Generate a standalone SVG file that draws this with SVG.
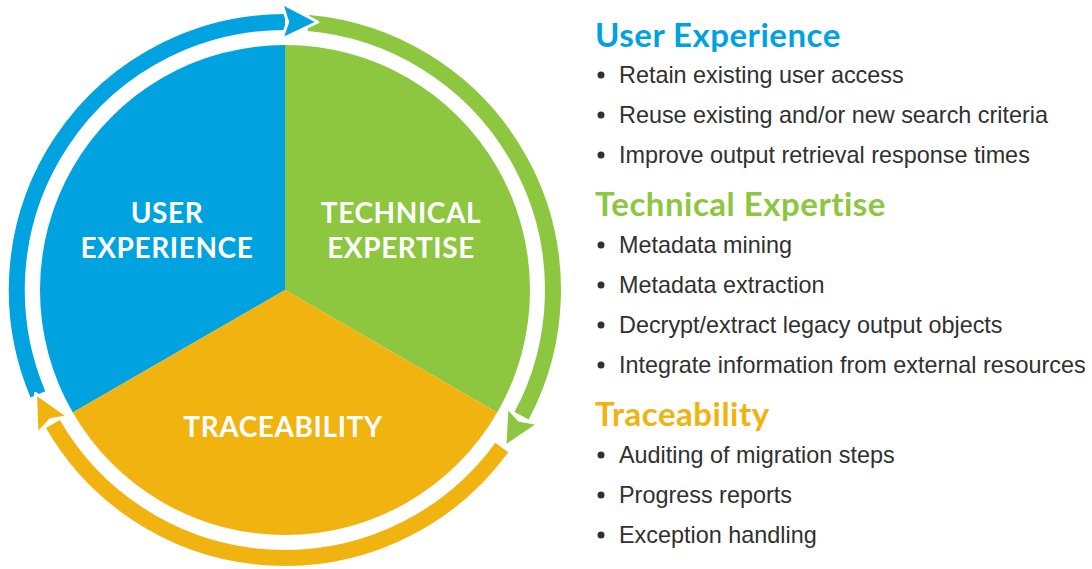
<svg xmlns="http://www.w3.org/2000/svg" width="1092" height="569" viewBox="0 0 1092 569">
<style>
.ring{fill:none;stroke-width:16}
.arr{stroke:#fff;stroke-width:3;stroke-linejoin:round}
.lbl{font-family:Lato,"Liberation Sans",sans-serif;font-weight:700;font-size:28px;letter-spacing:0.6px;fill:#fff;text-anchor:middle}
.hd{font-family:Lato,"Liberation Sans",sans-serif;font-weight:700;font-size:33px;letter-spacing:0.5px}
.it{font-family:"Liberation Sans",Arial,sans-serif;font-size:23.4px;fill:#303030}
.dot{fill:#303030}
</style>
<defs>
<polygon id="ah" points="251,-1 268,5 287,-1 267.7,35.2"/>
</defs>
<g id="sectors">
<g id="user-experience">
<path d="M285,290 L72.8,412.5 A245,245 0 0 1 285,45 Z" fill="#00A3E0"/>
<text class="lbl" x="167" y="223">USER</text>
<text class="lbl" x="167" y="258">EXPERIENCE</text>
</g>
<g id="technical-expertise">
<path d="M285,290 L285,45 A245,245 0 0 1 497.2,412.5 Z" fill="#8DC63F"/>
<text class="lbl" x="401" y="223">TECHNICAL</text>
<text class="lbl" x="401" y="258">EXPERTISE</text>
</g>
<g id="traceability">
<path d="M285,290 L497.2,412.5 A245,245 0 0 1 72.8,412.5 Z" fill="#F0B310"/>
<text class="lbl" x="283" y="437">TRACEABILITY</text>
</g>
</g>
<g id="connectors">
<path class="ring" stroke="#00A3E0" d="M37.9,394.3 A268,268 0 0 1 285,22"/>
<path class="ring" stroke="#8DC63F" d="M308.4,23 A268,268 0 0 1 521.6,415.8"/>
<path class="ring" stroke="#F0B310" d="M501.8,447.5 A268,268 0 0 1 52.9,424"/>
<use href="#ah" class="arr" fill="#00A3E0" transform="translate(285 290) rotate(269.5)"/>
<use href="#ah" class="arr" fill="#8DC63F" transform="translate(285 290) rotate(28)"/>
<use href="#ah" class="arr" fill="#F0B310" transform="translate(285 290) rotate(150)"/>
</g>
<g id="legend-user">
<text class="hd" x="595" y="47" fill="#00A3E0">User Experience</text>
<circle class="dot" cx="601" cy="75" r="3.5"/><text class="it" x="619" y="83">Retain existing user access</text>
<circle class="dot" cx="601" cy="115" r="3.5"/><text class="it" x="619" y="123">Reuse existing and/or new search criteria</text>
<circle class="dot" cx="601" cy="155" r="3.5"/><text class="it" x="619" y="163">Improve output retrieval response times</text>
</g>
<g id="legend-technical">
<text class="hd" x="595" y="216" fill="#8DC63F">Technical Expertise</text>
<circle class="dot" cx="601" cy="245" r="3.5"/><text class="it" x="619" y="253">Metadata mining</text>
<circle class="dot" cx="601" cy="285" r="3.5"/><text class="it" x="619" y="293">Metadata extraction</text>
<circle class="dot" cx="601" cy="325" r="3.5"/><text class="it" x="619" y="333">Decrypt/extract legacy output objects</text>
<circle class="dot" cx="601" cy="365" r="3.5"/><text class="it" x="619" y="373">Integrate information from external resources</text>
</g>
<g id="legend-traceability">
<text class="hd" x="595" y="426" fill="#F0B310">Traceability</text>
<circle class="dot" cx="601" cy="455" r="3.5"/><text class="it" x="619" y="463">Auditing of migration steps</text>
<circle class="dot" cx="601" cy="495" r="3.5"/><text class="it" x="619" y="503">Progress reports</text>
<circle class="dot" cx="601" cy="535" r="3.5"/><text class="it" x="619" y="543">Exception handling</text>
</g>
</svg>
